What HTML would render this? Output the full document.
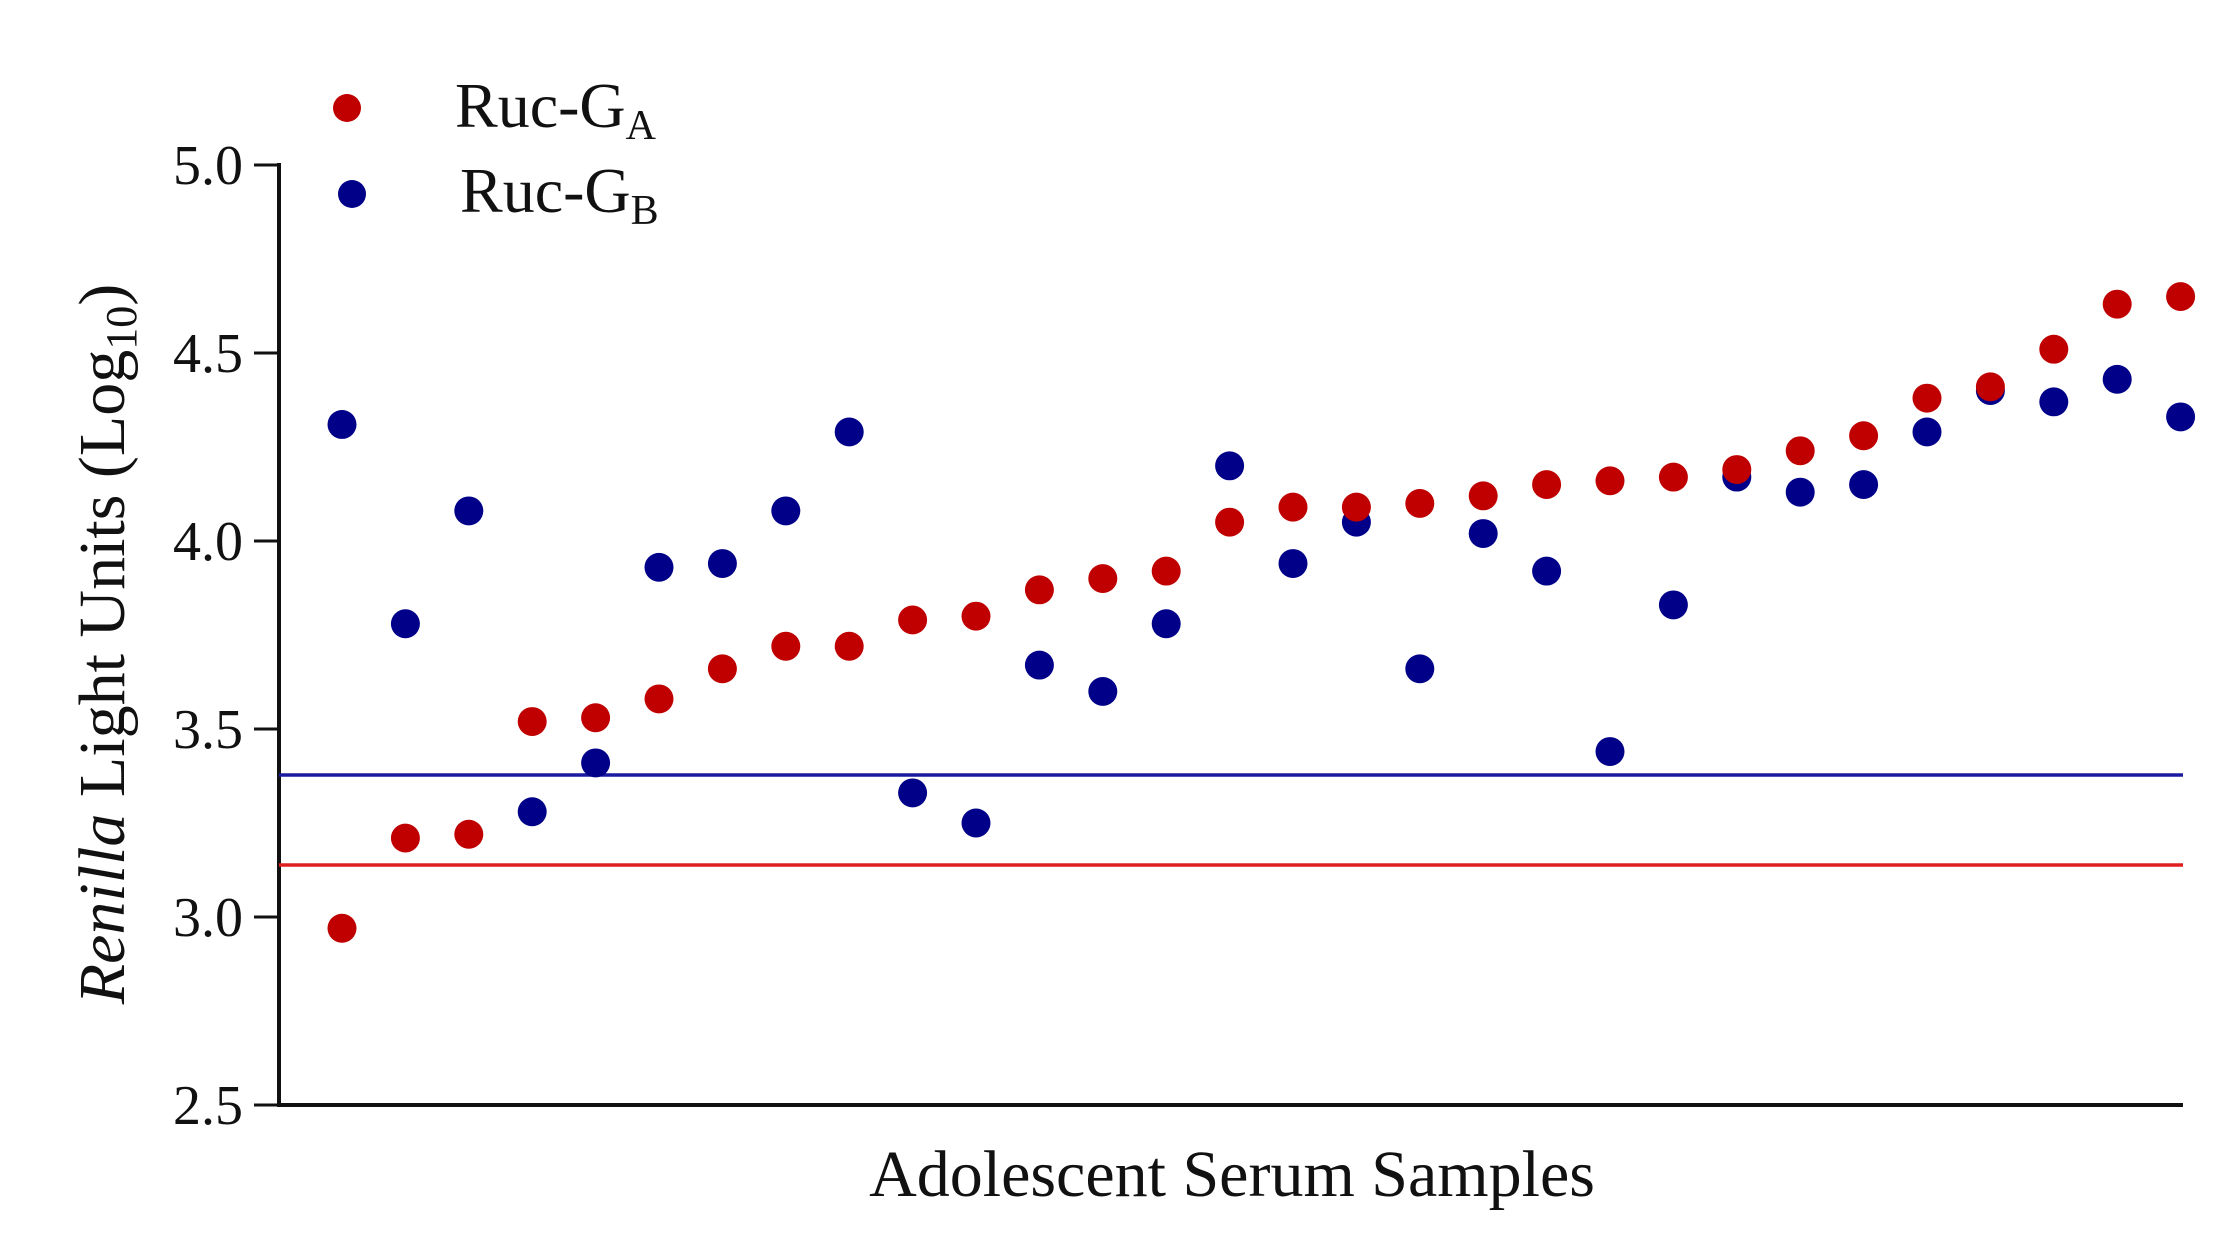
<!DOCTYPE html>
<html><head><meta charset="utf-8"><style>
html,body{margin:0;padding:0;background:#fff;}
svg{display:block;}
text{font-family:"Liberation Serif",serif;fill:#111;}
</style></head><body>
<svg width="2230" height="1251" viewBox="0 0 2230 1251" xmlns="http://www.w3.org/2000/svg">
<line x1="279" y1="163" x2="279" y2="1107" stroke="#111" stroke-width="4"/>
<line x1="277" y1="1105" x2="2183" y2="1105" stroke="#111" stroke-width="4"/>
<g stroke="#111" stroke-width="3">
<line x1="254" y1="165" x2="279" y2="165"/>
<line x1="254" y1="353" x2="279" y2="353"/>
<line x1="254" y1="541" x2="279" y2="541"/>
<line x1="254" y1="729" x2="279" y2="729"/>
<line x1="254" y1="917" x2="279" y2="917"/>
<line x1="254" y1="1105" x2="279" y2="1105"/>
</g>
<g font-size="56" text-anchor="end">
<text x="243" y="184">5.0</text>
<text x="243" y="372">4.5</text>
<text x="243" y="560">4.0</text>
<text x="243" y="748">3.5</text>
<text x="243" y="936">3.0</text>
<text x="243" y="1124">2.5</text>
</g>
<line x1="279" y1="775" x2="2183" y2="775" stroke="#1a1aa0" stroke-width="3.5"/>
<line x1="279" y1="865" x2="2183" y2="865" stroke="#e02020" stroke-width="3.5"/>
<g transform="translate(0,165) scale(1,0.99682) translate(0,-166)">
<g fill="#000088">
<circle cx="342" cy="426.3" r="14.5"/><circle cx="405.4" cy="626.2" r="14.5"/><circle cx="468.8" cy="513" r="14.5"/><circle cx="532.2" cy="814.8" r="14.5"/><circle cx="595.6" cy="765.8" r="14.5"/><circle cx="659" cy="569.6" r="14.5"/><circle cx="722.4" cy="565.8" r="14.5"/><circle cx="785.8" cy="513" r="14.5"/><circle cx="849.2" cy="433.8" r="14.5"/><circle cx="912.6" cy="795.9" r="14.5"/><circle cx="976" cy="826.1" r="14.5"/><circle cx="1039.4" cy="667.7" r="14.5"/><circle cx="1102.8" cy="694.1" r="14.5"/><circle cx="1166.2" cy="626.2" r="14.5"/><circle cx="1229.6" cy="467.8" r="14.5"/><circle cx="1293" cy="565.8" r="14.5"/><circle cx="1356.4" cy="524.3" r="14.5"/><circle cx="1419.8" cy="671.4" r="14.5"/><circle cx="1483.2" cy="535.7" r="14.5"/><circle cx="1546.6" cy="573.4" r="14.5"/><circle cx="1610" cy="754.4" r="14.5"/><circle cx="1673.4" cy="607.3" r="14.5"/><circle cx="1736.8" cy="479.1" r="14.5"/><circle cx="1800.2" cy="494.2" r="14.5"/><circle cx="1863.6" cy="486.6" r="14.5"/><circle cx="1927" cy="433.8" r="14.5"/><circle cx="1990.4" cy="392.3" r="14.5"/><circle cx="2053.8" cy="403.6" r="14.5"/><circle cx="2117.2" cy="381" r="14.5"/><circle cx="2180.6" cy="418.7" r="14.5"/>
</g>
<g fill="#c00000">
<circle cx="342" cy="931.7" r="14.5"/><circle cx="405.4" cy="841.2" r="14.5"/><circle cx="468.8" cy="837.4" r="14.5"/><circle cx="532.2" cy="724.3" r="14.5"/><circle cx="595.6" cy="720.5" r="14.5"/><circle cx="659" cy="701.6" r="14.5"/><circle cx="722.4" cy="671.4" r="14.5"/><circle cx="785.8" cy="648.8" r="14.5"/><circle cx="849.2" cy="648.8" r="14.5"/><circle cx="912.6" cy="622.4" r="14.5"/><circle cx="976" cy="618.6" r="14.5"/><circle cx="1039.4" cy="592.2" r="14.5"/><circle cx="1102.8" cy="580.9" r="14.5"/><circle cx="1166.2" cy="573.4" r="14.5"/><circle cx="1229.6" cy="524.3" r="14.5"/><circle cx="1293" cy="509.2" r="14.5"/><circle cx="1356.4" cy="509.2" r="14.5"/><circle cx="1419.8" cy="505.5" r="14.5"/><circle cx="1483.2" cy="497.9" r="14.5"/><circle cx="1546.6" cy="486.6" r="14.5"/><circle cx="1610" cy="482.8" r="14.5"/><circle cx="1673.4" cy="479.1" r="14.5"/><circle cx="1736.8" cy="471.5" r="14.5"/><circle cx="1800.2" cy="452.7" r="14.5"/><circle cx="1863.6" cy="437.6" r="14.5"/><circle cx="1927" cy="399.9" r="14.5"/><circle cx="1990.4" cy="388.5" r="14.5"/><circle cx="2053.8" cy="350.8" r="14.5"/><circle cx="2117.2" cy="305.6" r="14.5"/><circle cx="2180.6" cy="298" r="14.5"/>
</g>
</g>
<text x="1232" y="1196" font-size="66" text-anchor="middle">Adolescent Serum Samples</text>
<text transform="translate(124,644) rotate(-90)" font-size="66" text-anchor="middle"><tspan font-style="italic">Renilla</tspan> Light Units (Log<tspan font-size="44" dy="12">10</tspan><tspan dy="-12">)</tspan></text>
<circle cx="347" cy="108" r="14" fill="#c00000"/>
<circle cx="352" cy="194" r="14" fill="#000088"/>
<text x="455" y="127" font-size="64">Ruc-G<tspan font-size="42" dy="12">A</tspan></text>
<text x="460" y="212" font-size="64">Ruc-G<tspan font-size="42" dy="12">B</tspan></text>
</svg>
</body></html>
